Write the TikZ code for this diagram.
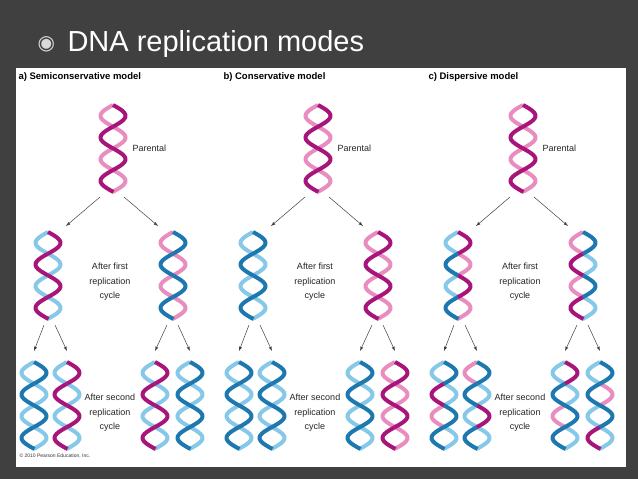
\documentclass[tikz,border=0pt]{standalone}
\usepackage{fontspec}
\setmainfont{Liberation Sans}
\newfontfamily\dejavu{DejaVu Sans}
\definecolor{Md}{HTML}{A8157A}
\definecolor{Ml}{HTML}{E98CC0}
\definecolor{Bd}{HTML}{1E78B0}
\definecolor{Bl}{HTML}{86C8E8}
\definecolor{bgd}{HTML}{404040}
\newcommand\hstrand[5]{% cx ytop phase colors(4) ; height 87
  \foreach \c [count=\i] in {#4}{%
    \pgfmathsetmacro\ya{#2+(\i-1)*21.75}%
    \pgfmathsetmacro\yb{#2+\i*21.75}%
    \draw[strand,\c] plot[domain=\ya:\yb,samples=14,variable=\t]
      ({#1+12.5*sin((\t-#2)*8.3+#3)},{-\t});
  }}
\newcommand\dna[4]{\hstrand{#1}{#2}{180}{#4}{}\hstrand{#1}{#2}{0}{#3}{}}
\tikzset{strand/.style={line width=4pt,line cap=butt},
  arr/.style={-latex,draw=black!75,line width=0.5pt},
  lab/.style={font=\fontsize{9}{14.5}\selectfont,align=center,text=black!85},
  ttl/.style={font=\bfseries\fontsize{9.5}{10}\selectfont,anchor=west}}
\begin{document}
\begin{tikzpicture}[x=1pt,y=1pt]
\useasboundingbox (0,0) rectangle (638,-479);
\fill[bgd] (0,0) rectangle (638,-479);
\node[anchor=west,text=white!85!black,font=\dejavu\fontsize{20}{22}\selectfont] (bul) at (34,-44) {◉};
\node[anchor=west,text=white,font=\fontsize{29}{32}\selectfont] (title) at (64,-44) {DNA replication modes};
\fill[white] (16,-68) rectangle (626,-467);
\node[anchor=west,font=\fontsize{5}{6}\selectfont,text=black!80] (copy) at (16,-456) {© 2010 Pearson Education, Inc.};
\foreach \off/\name/\t in {0/a/{a) Semiconservative model},205/b/{b) Conservative model},410/c/{c) Dispersive model}}{
  \node[ttl] (t\name) at (15+\off,-77) {\t};
  \node[lab,anchor=west] (p\name) at (129+\off,-148) {Parental};
  \node[lab] (f\name) at (110+\off,-282) {After first\\replication\\cycle};
  \node[lab] (s\name) at (110+\off,-413) {After second\\replication\\cycle};
  \coordinate (A1\name) at (100+\off,-197); \coordinate (A2\name) at (66+\off,-226);
  \coordinate (B1\name) at (124+\off,-197); \coordinate (B2\name) at (158+\off,-226);
  \draw[arr] (A1\name) -- (A2\name); \draw[arr] (B1\name) -- (B2\name);
  \foreach \x/\p in {44/34,55/67,167/155,178/190}{
    \coordinate (C1\name\x) at (\x+\off,-325); \coordinate (C2\name\x) at (\p+\off,-351);
    \draw[arr] (C1\name\x) -- (C2\name\x);}
  \dna{113+\off}{105}{Md,Md,Md,Md}{Ml,Ml,Ml,Ml}
}
% a) semiconservative
\dna{48}{232}{Md,Md,Md,Md}{Bl,Bl,Bl,Bl}
\dna{173}{232}{Bd,Bd,Bd,Bd}{Ml,Ml,Ml,Ml}
\dna{34}{362}{Bd,Bd,Bd,Bd}{Bl,Bl,Bl,Bl}
\dna{67}{362}{Md,Md,Md,Md}{Bl,Bl,Bl,Bl}
\dna{155}{362}{Md,Md,Md,Md}{Bl,Bl,Bl,Bl}
\dna{190}{362}{Bd,Bd,Bd,Bd}{Bl,Bl,Bl,Bl}
% b) conservative
\dna{253}{232}{Bd,Bd,Bd,Bd}{Bl,Bl,Bl,Bl}
\dna{378}{232}{Md,Md,Md,Md}{Ml,Ml,Ml,Ml}
\dna{239}{362}{Bd,Bd,Bd,Bd}{Bl,Bl,Bl,Bl}
\dna{272}{362}{Bd,Bd,Bd,Bd}{Bl,Bl,Bl,Bl}
\dna{360}{362}{Bd,Bd,Bd,Bd}{Bl,Bl,Bl,Bl}
\dna{395}{362}{Md,Md,Md,Md}{Ml,Ml,Ml,Ml}
% c) dispersive
\dna{458}{232}{Md,Bd,Md,Bd}{Bl,Ml,Bl,Ml}
\dna{583}{232}{Bd,Md,Bd,Md}{Ml,Bl,Ml,Bl}
\dna{444}{362}{Bd,Md,Bd,Bd}{Bl,Bl,Ml,Bl}
\dna{477}{362}{Bd,Bd,Md,Bd}{Ml,Bl,Bl,Bl}
\dna{565}{362}{Md,Bd,Bd,Bd}{Bl,Bl,Ml,Bl}
\dna{600}{362}{Bd,Bd,Bd,Md}{Bl,Ml,Bl,Bl}
\end{tikzpicture}
\end{document}
